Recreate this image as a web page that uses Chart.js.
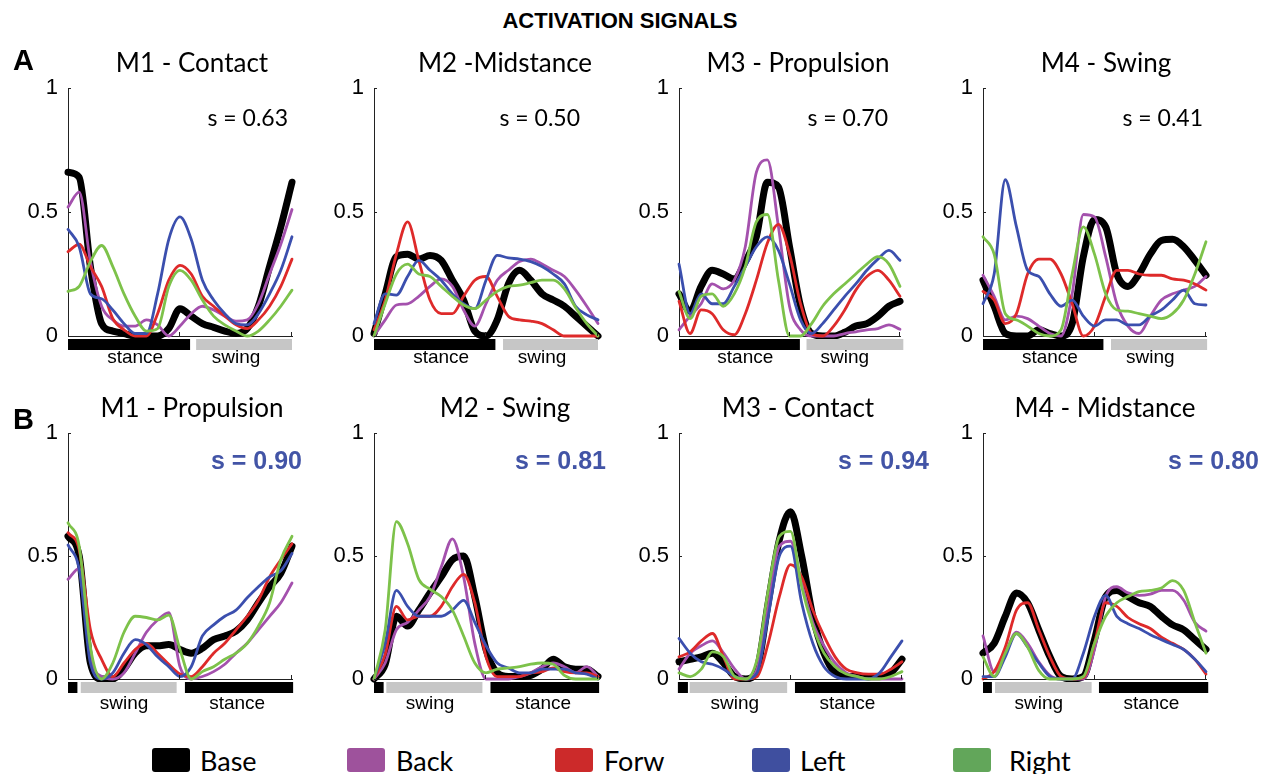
<!DOCTYPE html>
<html>
<head>
<meta charset="utf-8">
<title>Activation signals</title>
<script src="https://cdn.jsdelivr.net/npm/chart.js@4.4.1/dist/chart.umd.min.js"></script>
<style>
  body { margin: 0; background: #fff; }
  #page { position: relative; width: 1268px; height: 774px; overflow: hidden; background: #fff; }
  .cv { position: absolute; }
  .txt { position: absolute; white-space: nowrap; line-height: 1; color: #000; }
  .mid { transform: translate(-50%, -50%); }
  .rgt { transform: translate(-100%, -50%); }
  .lft { transform: translate(0, -50%); }
  .head { font: bold 22px "Liberation Sans", Arial, sans-serif; }
  .letter { font: bold 29px "Liberation Sans", Arial, sans-serif; }
  .ptitle { font: 26px Lato, "Open Sans", sans-serif; }
  .sval { font: 23px Lato, "Open Sans", sans-serif; }
  .sbold { font: bold 25px "Liberation Sans", Arial, sans-serif; color: #4254a6; }
  .swatch { position: absolute; width: 38px; height: 24px; border-radius: 3px; }
  .ltxt { font: 27px Lato, "Open Sans", sans-serif; }
</style>
</head>
<body>
<div id="page"></div>
<script>
// gait cycle (%) and y ticks
const PHASE = [0, 5, 10, 15, 20, 25, 30, 35, 40, 45, 50, 55, 60, 65, 70, 75, 80, 85, 90, 95, 100];
const Y_TICKS = [0, 0.5, 1];
const X_MARKS = [50, 100];

const SERIES = ['Base', 'Back', 'Forw', 'Left', 'Right'];
const LINE_COLORS = ['#000000', '#a451ad', '#de2a2a', '#3b4fae', '#7dc24a'];
const SWATCH_COLORS = ['#000000', '#9e529c', '#cc2a2a', '#3f4f9f', '#62a65a'];
const LINE_WIDTHS = [7, 2.8, 2.8, 2.8, 2.8];

// ---- row A: activation signals per direction ----
const a1Base  = [0.66, 0.64, 0.28, 0.05, 0.02, 0.01, 0, 0, 0, 0.03, 0.11, 0.08, 0.05, 0.035, 0.02, 0.01, 0.03, 0.12, 0.28, 0.44, 0.62];
const a1Back  = [0.52, 0.58, 0.30, 0.12, 0.065, 0.04, 0.04, 0.065, 0.045, 0, 0.04, 0.09, 0.12, 0.105, 0.08, 0.06, 0.065, 0.13, 0.25, 0.37, 0.51];
const a1Forw  = [0.34, 0.37, 0.28, 0.20, 0.07, 0.025, 0, 0, 0.09, 0.225, 0.285, 0.25, 0.16, 0.12, 0.08, 0.045, 0.03, 0.065, 0.12, 0.20, 0.31];
const a1Left  = [0.43, 0.36, 0.17, 0.15, 0.105, 0.05, 0.01, 0.01, 0.17, 0.39, 0.48, 0.39, 0.225, 0.145, 0.09, 0.05, 0.045, 0.09, 0.17, 0.265, 0.40];
const a1Right = [0.18, 0.20, 0.30, 0.365, 0.28, 0.17, 0.08, 0.02, 0.03, 0.20, 0.265, 0.225, 0.145, 0.08, 0.045, 0.02, 0, 0.02, 0.065, 0.12, 0.185];

const a2Base  = [0.01, 0.17, 0.32, 0.33, 0.31, 0.325, 0.305, 0.225, 0.145, 0.02, 0, 0.065, 0.21, 0.265, 0.225, 0.17, 0.145, 0.12, 0.08, 0.04, 0];
const a2Back  = [0, 0.065, 0.125, 0.13, 0.16, 0.20, 0.23, 0.20, 0.105, 0.04, 0.13, 0.225, 0.265, 0.30, 0.31, 0.29, 0.265, 0.24, 0.185, 0.12, 0.05];
const a2Forw  = [0.025, 0.145, 0.33, 0.46, 0.305, 0.145, 0.09, 0.09, 0.16, 0.225, 0.24, 0.16, 0.08, 0.065, 0.06, 0.05, 0.025, 0, 0, 0, 0];
const a2Left  = [0.05, 0.17, 0.165, 0.24, 0.305, 0.265, 0.225, 0.17, 0.13, 0.11, 0.225, 0.325, 0.315, 0.31, 0.30, 0.28, 0.25, 0.21, 0.12, 0.085, 0.065];
const a2Right = [0, 0.13, 0.25, 0.29, 0.25, 0.24, 0.20, 0.16, 0.125, 0.11, 0.145, 0.18, 0.20, 0.205, 0.215, 0.225, 0.225, 0.19, 0.115, 0.05, 0];

const a3Base  = [0.17, 0.10, 0.20, 0.265, 0.25, 0.23, 0.30, 0.40, 0.62, 0.60, 0.36, 0.12, 0.01, 0, 0, 0.015, 0.04, 0.05, 0.08, 0.12, 0.14];
const a3Back  = [0.025, 0.08, 0.13, 0.21, 0.19, 0.225, 0.36, 0.66, 0.71, 0.44, 0.12, 0.025, 0, 0, 0, 0.01, 0.017, 0.025, 0.03, 0.045, 0.027];
const a3Forw  = [0.14, 0.01, 0.105, 0.09, 0.025, 0.005, 0.09, 0.225, 0.375, 0.45, 0.33, 0.13, 0.01, 0, 0.04, 0.105, 0.185, 0.24, 0.265, 0.225, 0.16];
const a3Left  = [0.29, 0.09, 0.17, 0.13, 0.13, 0.20, 0.28, 0.36, 0.40, 0.345, 0.21, 0.065, 0.01, 0.05, 0.105, 0.16, 0.21, 0.265, 0.31, 0.345, 0.305];
const a3Right = [0.18, 0.07, 0.16, 0.17, 0.12, 0.17, 0.28, 0.46, 0.49, 0.225, 0, 0, 0.05, 0.12, 0.17, 0.21, 0.25, 0.29, 0.32, 0.29, 0.20];

const a4Base  = [0.225, 0.12, 0.01, 0, 0, 0.025, 0.01, 0, 0.05, 0.32, 0.47, 0.44, 0.25, 0.20, 0.25, 0.33, 0.385, 0.39, 0.36, 0.305, 0.245];
const a4Back  = [0.245, 0.16, 0.065, 0.08, 0.07, 0.04, 0.01, 0, 0.17, 0.49, 0.48, 0.32, 0.13, 0.04, 0.01, 0.08, 0.145, 0.17, 0.185, 0.20, 0.24];
const a4Forw  = [0.18, 0.145, 0.05, 0.09, 0.25, 0.31, 0.31, 0.25, 0.13, 0, 0.04, 0.16, 0.265, 0.265, 0.25, 0.245, 0.245, 0.23, 0.225, 0.21, 0.185];
const a4Left  = [0.13, 0.25, 0.63, 0.44, 0.265, 0.24, 0.17, 0.12, 0.145, 0.08, 0.04, 0.065, 0.065, 0.045, 0.045, 0.08, 0.105, 0.145, 0.185, 0.13, 0.125];
const a4Right = [0.40, 0.33, 0.09, 0.065, 0.04, 0.01, 0, 0.025, 0.25, 0.44, 0.33, 0.17, 0.105, 0.10, 0.09, 0.08, 0.07, 0.09, 0.145, 0.25, 0.38];

// ---- row B: aligned activation signals ----
const b1Base  = [0.58, 0.50, 0.065, 0, 0, 0.04, 0.105, 0.135, 0.135, 0.14, 0.12, 0.105, 0.125, 0.16, 0.175, 0.195, 0.24, 0.31, 0.375, 0.43, 0.54];
const b1Back  = [0.405, 0.45, 0.09, 0.01, 0, 0.025, 0.105, 0.19, 0.24, 0.27, 0.05, 0, 0.01, 0.03, 0.06, 0.105, 0.145, 0.20, 0.255, 0.31, 0.39];
const b1Forw  = [0.595, 0.525, 0.20, 0.08, 0.01, 0.065, 0.12, 0.145, 0.105, 0.06, 0.02, 0.01, 0.05, 0.105, 0.145, 0.20, 0.255, 0.32, 0.415, 0.485, 0.55];
const b1Left  = [0.545, 0.445, 0.065, 0, 0.025, 0.105, 0.16, 0.14, 0.09, 0.05, 0.01, 0.05, 0.175, 0.22, 0.255, 0.28, 0.33, 0.375, 0.415, 0.44, 0.51];
const b1Right = [0.635, 0.54, 0.13, 0, 0.065, 0.19, 0.255, 0.25, 0.24, 0.26, 0.12, 0, 0.03, 0.05, 0.08, 0.105, 0.145, 0.215, 0.31, 0.485, 0.58];

const b2Base  = [0, 0.06, 0.255, 0.215, 0.28, 0.35, 0.415, 0.485, 0.50, 0.335, 0.12, 0.025, 0.01, 0.01, 0.015, 0.04, 0.08, 0.05, 0.04, 0.04, 0.01];
const b2Back  = [0, 0.065, 0.20, 0.23, 0.28, 0.335, 0.455, 0.57, 0.415, 0.145, 0, 0, 0, 0.01, 0.025, 0.05, 0.065, 0.05, 0.025, 0.05, 0.01];
const b2Forw  = [0, 0.10, 0.295, 0.24, 0.255, 0.255, 0.295, 0.375, 0.425, 0.31, 0.09, 0.01, 0.01, 0.01, 0.025, 0.03, 0.045, 0.03, 0.025, 0.025, 0.01];
const b2Left  = [0, 0.145, 0.36, 0.295, 0.255, 0.255, 0.255, 0.28, 0.32, 0.23, 0.135, 0.065, 0.045, 0.025, 0.025, 0.04, 0.04, 0.04, 0.025, 0.02, 0];
const b2Right = [0, 0.20, 0.64, 0.55, 0.405, 0.365, 0.335, 0.28, 0.175, 0.065, 0.025, 0.04, 0.045, 0.05, 0.06, 0.065, 0.06, 0.015, 0, 0, 0];

const b3Base  = [0.07, 0.08, 0.09, 0.105, 0.065, 0.01, 0, 0.04, 0.31, 0.565, 0.68, 0.50, 0.255, 0.105, 0.025, 0.01, 0.01, 0.01, 0.01, 0.025, 0.08];
const b3Back  = [0.04, 0.105, 0.135, 0.155, 0.105, 0.04, 0, 0.04, 0.295, 0.54, 0.56, 0.39, 0.23, 0.135, 0.065, 0.025, 0.01, 0, 0, 0, 0];
const b3Forw  = [0.09, 0.11, 0.155, 0.185, 0.09, 0, 0, 0.01, 0.145, 0.335, 0.465, 0.415, 0.28, 0.175, 0.09, 0.04, 0.025, 0.02, 0.02, 0.04, 0.07];
const b3Left  = [0.165, 0.105, 0.07, 0.06, 0.04, 0.01, 0, 0.025, 0.255, 0.50, 0.54, 0.31, 0.145, 0.05, 0.01, 0, 0, 0, 0.025, 0.09, 0.155];
const b3Right = [0.025, 0.01, 0.04, 0.11, 0.09, 0.01, 0, 0.08, 0.36, 0.58, 0.60, 0.375, 0.215, 0.105, 0.05, 0.02, 0.01, 0, 0, 0.01, 0.03];

const b4Base  = [0.105, 0.145, 0.255, 0.35, 0.31, 0.20, 0.09, 0.01, 0, 0.01, 0.16, 0.335, 0.36, 0.335, 0.31, 0.295, 0.255, 0.22, 0.20, 0.16, 0.12];
const b4Back  = [0.175, 0.03, 0.105, 0.19, 0.145, 0.07, 0.015, 0, 0, 0, 0.12, 0.335, 0.375, 0.35, 0.34, 0.345, 0.36, 0.36, 0.32, 0.23, 0.195];
const b4Forw  = [0, 0.03, 0.13, 0.28, 0.31, 0.20, 0.09, 0.01, 0, 0.005, 0.145, 0.31, 0.295, 0.25, 0.225, 0.205, 0.17, 0.145, 0.12, 0.08, 0.02];
const b4Left  = [0.01, 0.01, 0.09, 0.185, 0.13, 0.065, 0.01, 0, 0, 0.105, 0.255, 0.34, 0.255, 0.225, 0.205, 0.18, 0.16, 0.14, 0.12, 0.08, 0.03];
const b4Right = [0.09, 0.01, 0.105, 0.185, 0.13, 0.035, 0, 0, 0, 0.01, 0.145, 0.255, 0.31, 0.335, 0.355, 0.36, 0.37, 0.40, 0.36, 0.23, 0.105];

// stance / swing phases (% of cycle)
const a1Stance = [[0, 54.5]];   const a1Swing = [[57.2, 100]];
const a2Stance = [[0, 54.2]];   const a2Swing = [[57.6, 100]];
const a3Stance = [[0, 54.7]];   const a3Swing = [[57.7, 101.5]];
const a4Stance = [[0, 54.0]];   const a4Swing = [[57.4, 100.5]];
const b1Stance = [[0, 4.2], [52.2, 100.5]];  const b1Swing = [[5.7, 48.5]];
const b2Stance = [[0, 4.3], [52.0, 100.5]];  const b2Swing = [[5.5, 48.4]];
const b3Stance = [[-0.5, 4.0], [52.0, 101.5]]; const b3Swing = [[4.8, 48.5]];
const b4Stance = [[0, 4.0], [52.0, 101]];    const b4Swing = [[5.4, 48.7]];

const ROWS = {
  A: { top: 88, bottom: 336, titleY: 62, sY: 117, labelDy: 22, labels: [['stance', 30], ['swing', 75]] },
  B: { top: 433, bottom: 679, titleY: 407, sY: 460, labelDy: 25, labels: [['swing', 25], ['stance', 75.5]] }
};

const PANELS = [
  { row: 'A', x0: 68,  x1: 292,  title: 'M1 - Contact',    titleX: 192,  s: 's = 0.63', sX: 288,  data: [a1Base, a1Back, a1Forw, a1Left, a1Right], stance: a1Stance, swing: a1Swing },
  { row: 'A', x0: 374, x1: 598,  title: 'M2 -Midstance',   titleX: 505,  s: 's = 0.50', sX: 580,  data: [a2Base, a2Back, a2Forw, a2Left, a2Right], stance: a2Stance, swing: a2Swing },
  { row: 'A', x0: 679, x1: 900,  title: 'M3 - Propulsion', titleX: 798,  s: 's = 0.70', sX: 888,  data: [a3Base, a3Back, a3Forw, a3Left, a3Right], stance: a3Stance, swing: a3Swing },
  { row: 'A', x0: 983, x1: 1206, title: 'M4 - Swing',      titleX: 1106, s: 's = 0.41', sX: 1203, data: [a4Base, a4Back, a4Forw, a4Left, a4Right], stance: a4Stance, swing: a4Swing },
  { row: 'B', x0: 68,  x1: 292,  title: 'M1 - Propulsion', titleX: 192,  s: 's = 0.90', sX: 302,  data: [b1Base, b1Back, b1Forw, b1Left, b1Right], stance: b1Stance, swing: b1Swing },
  { row: 'B', x0: 374, x1: 598,  title: 'M2 - Swing',      titleX: 505,  s: 's = 0.81', sX: 606,  data: [b2Base, b2Back, b2Forw, b2Left, b2Right], stance: b2Stance, swing: b2Swing },
  { row: 'B', x0: 679, x1: 902,  title: 'M3 - Contact',    titleX: 798,  s: 's = 0.94', sX: 929,  data: [b3Base, b3Back, b3Forw, b3Left, b3Right], stance: b3Stance, swing: b3Swing },
  { row: 'B', x0: 983, x1: 1206, title: 'M4 - Midstance',  titleX: 1105, s: 's = 0.80', sX: 1259, data: [b4Base, b4Back, b4Forw, b4Left, b4Right], stance: b4Stance, swing: b4Swing }
];

const LEGEND_X = [152, 347, 555, 752, 953];
const LEGEND_GAP = [48, 49, 49, 48, 56];

const Y_AXIS_W = 64, X_AXIS_H = 44, PAD_T = 14, PAD_R = 12;
const page = document.getElementById('page');

function addText(cls, text, x, y, align) {
  const d = document.createElement('div');
  d.className = 'txt ' + cls + ' ' + align;
  d.style.left = x + 'px';
  d.style.top = y + 'px';
  d.textContent = text;
  page.appendChild(d);
}

// phase bars under the x axis, matlab-style inner ticks, stance/swing labels
const gaitBars = {
  id: 'gaitBars',
  afterDraw(chart, args, opts) {
    const { ctx, chartArea, scales: { x, y } } = chart;
    const top = chartArea.bottom + 3;
    ctx.save();
    const bar = (segs, color) => segs.forEach(([a, b]) => {
      const l = x.getPixelForValue(a), r = x.getPixelForValue(b);
      ctx.fillStyle = color;
      ctx.fillRect(l, top, r - l, 11);
    });
    bar(opts.stance, '#000');
    bar(opts.swing, '#c6c6c6');

    ctx.strokeStyle = '#222';
    ctx.lineWidth = 1;
    Y_TICKS.forEach(v => {
      const py = Math.round(y.getPixelForValue(v)) + 0.5;
      ctx.beginPath(); ctx.moveTo(chartArea.left, py); ctx.lineTo(chartArea.left + 3, py); ctx.stroke();
    });
    X_MARKS.forEach(v => {
      const px = Math.round(x.getPixelForValue(v)) - 0.5;
      ctx.beginPath(); ctx.moveTo(px, chartArea.bottom); ctx.lineTo(px, chartArea.bottom - 4); ctx.stroke();
    });

    ctx.fillStyle = '#000';
    ctx.font = '19px "Liberation Sans", Arial, sans-serif';
    ctx.textAlign = 'center';
    ctx.textBaseline = 'middle';
    opts.labels.forEach(([t, v]) => ctx.fillText(t, x.getPixelForValue(v), chartArea.bottom + opts.labelDy));
    ctx.restore();
  }
};

PANELS.forEach((p, idx) => {
  const row = ROWS[p.row];
  const cv = document.createElement('canvas');
  const w = Y_AXIS_W + (p.x1 - p.x0) + PAD_R;
  const h = PAD_T + (row.bottom - row.top) + X_AXIS_H;
  cv.className = 'cv';
  cv.width = w; cv.height = h;
  cv.style.left = (p.x0 - Y_AXIS_W) + 'px';
  cv.style.top = (row.top - PAD_T) + 'px';
  cv.style.width = w + 'px'; cv.style.height = h + 'px';
  page.appendChild(cv);

  new Chart(cv, {
    type: 'line',
    data: {
      datasets: SERIES.map((name, i) => ({
        label: name,
        data: PHASE.map((ph, k) => ({ x: ph, y: p.data[i][k] })),
        borderColor: LINE_COLORS[i],
        borderWidth: LINE_WIDTHS[i],
        order: SERIES.length - i,
        clip: false
      }))
    },
    options: {
      responsive: false,
      animation: false,
      events: [],
      layout: { padding: { top: PAD_T, right: PAD_R, left: 0, bottom: 0 } },
      elements: {
        point: { radius: 0 },
        line: { cubicInterpolationMode: 'monotone', borderCapStyle: 'round', borderJoinStyle: 'round' }
      },
      plugins: {
        legend: { display: false },
        tooltip: { enabled: false },
        gaitBars: { stance: p.stance, swing: p.swing, labels: row.labels, labelDy: row.labelDy }
      },
      scales: {
        x: {
          type: 'linear', min: 0, max: 100,
          grid: { display: false, drawTicks: false },
          border: { display: true, color: '#222', width: 1 },
          ticks: { display: false },
          afterFit(s) { s.height = X_AXIS_H; s.paddingLeft = 0; s.paddingRight = 0; }
        },
        y: {
          min: 0, max: 1,
          afterBuildTicks(s) { s.ticks = Y_TICKS.map(v => ({ value: v })); },
          grid: { display: false, drawTicks: false },
          border: { display: true, color: '#222', width: 1 },
          ticks: { padding: 10, color: '#000', font: { family: '"Liberation Sans", Arial, sans-serif', size: 22 }, callback: v => String(v) },
          // keep the plot box fixed: labels may overhang the top edge
          afterFit(s) { s.width = Y_AXIS_W; s.paddingTop = 0; s.paddingBottom = 0; }
        }
      }
    },
    plugins: [gaitBars]
  });

  addText('ptitle', p.title, p.titleX, row.titleY, 'mid');
  addText(p.row === 'A' ? 'sval' : 'sbold', p.s, p.sX, row.sY, 'rgt');
});

addText('head', 'ACTIVATION SIGNALS', 620, 21, 'mid');
addText('letter', 'A', 13, 60, 'lft');
addText('letter', 'B', 13, 419, 'lft');

SERIES.forEach((name, i) => {
  const sw = document.createElement('div');
  sw.className = 'swatch';
  sw.style.left = LEGEND_X[i] + 'px';
  sw.style.top = '748px';
  sw.style.background = SWATCH_COLORS[i];
  page.appendChild(sw);
  addText('ltxt', name, LEGEND_X[i] + LEGEND_GAP[i], 760, 'lft');
});
</script>
</body>
</html>
